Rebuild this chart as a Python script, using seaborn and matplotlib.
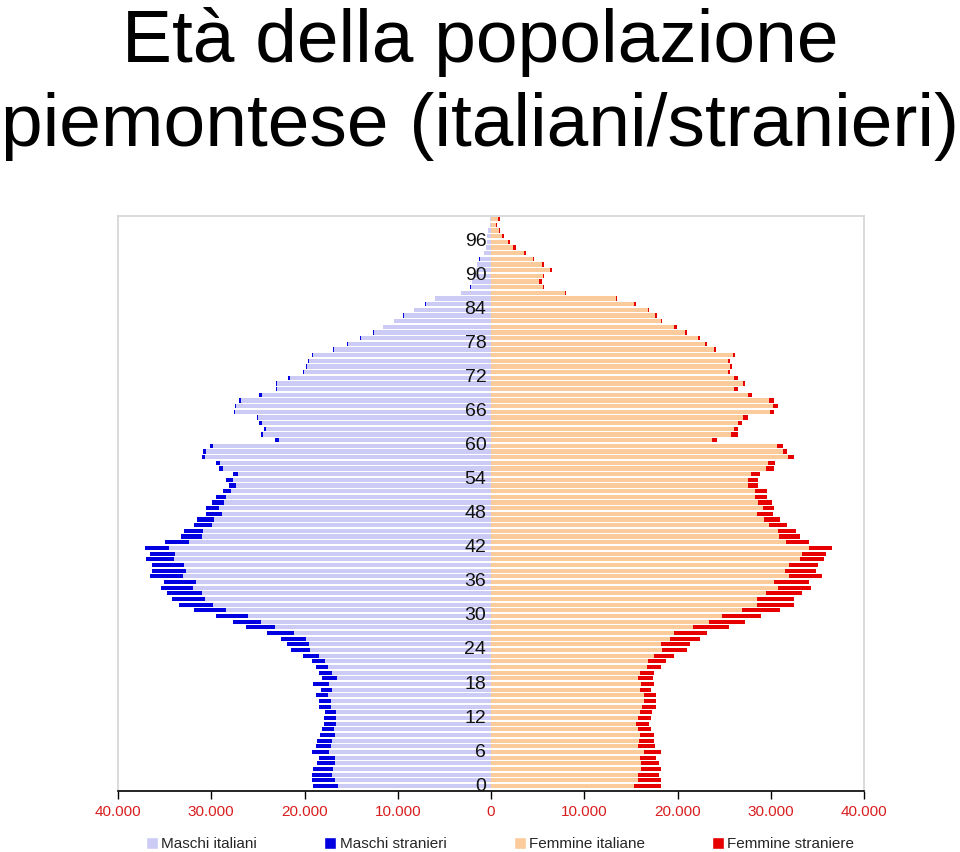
import numpy as np
import pandas as pd
import seaborn as sns
import matplotlib.pyplot as plt
from matplotlib.patches import Patch

# eta' 0..100, valori in migliaia
ages = list(range(0, 101))

maschi_italiani = [
    16.4, 16.75, 17.0, 16.94, 16.75, 16.75, 17.36, 17.18, 17.04, 16.75,
    16.83, 16.65, 16.65, 16.65, 17.15, 17.15, 17.5, 17.0, 17.36, 16.47,
    17.0, 17.47, 17.75, 18.46, 19.42, 19.53, 19.88, 21.13, 23.16, 24.65,
    26.07, 28.39, 29.81, 30.63, 31.02, 31.98, 31.59, 32.98, 32.69, 32.94,
    34.01, 33.9, 34.54, 32.34, 31.02, 30.92, 29.92, 29.74, 28.82, 29.21,
    28.68, 28.42, 27.89, 27.35, 27.71, 27.1, 28.74, 29.03, 30.63, 30.6,
    29.8, 22.7, 24.5, 24.15, 24.6, 24.95, 27.45, 27.35, 26.85, 24.6,
    22.9, 22.9, 21.55, 20.1, 19.75, 19.57, 19.1, 16.85, 15.37, 13.93,
    12.6, 11.55, 10.37, 9.38, 8.22, 7.01, 6.03, 3.25, 2.19, 1.99,
    1.95, 1.59, 1.49, 1.23, 0.77, 0.54, 0.44, 0.39, 0.29, 0.15, 0.15]

maschi_stranieri = [
    2.67, 2.43, 2.18, 2.13, 1.92, 1.71, 1.82, 1.64, 1.66, 1.57,
    1.27, 1.21, 1.21, 1.14, 1.31, 1.31, 1.28, 1.28, 1.71, 1.63,
    1.46, 1.31, 1.45, 1.68, 2.07, 2.31, 2.64, 2.85, 3.09, 3.06,
    3.46, 3.41, 3.67, 3.63, 3.74, 3.45, 3.45, 3.62, 3.70, 3.45,
    3.02, 2.70, 2.60, 2.59, 2.24, 2.02, 1.88, 1.82, 1.70, 1.31,
    1.20, 1.11, 0.89, 0.72, 0.71, 0.61, 0.43, 0.46, 0.39, 0.32,
    0.37, 0.46, 0.19, 0.18, 0.23, 0.17, 0.15, 0.15, 0.22, 0.30,
    0.15, 0.20, 0.25, 0.10, 0.10, 0.10, 0.08, 0.08, 0.07, 0.07,
    0.07, 0.05, 0.05, 0.04, 0.03, 0.03, 0.02, 0.02, 0.01, 0.01,
    0.01, 0.01, 0.01, 0.01, 0.01, 0.01, 0.01, 0.01, 0.01, 0.0, 0.0]

femmine_italiane = [
    15.37, 15.72, 15.72, 16.08, 16.08, 15.97, 16.36, 15.8, 15.9, 16.0,
    15.8, 15.55, 15.76, 16.0, 16.15, 16.36, 16.36, 16.0, 16.08, 15.8,
    16.0, 16.72, 16.86, 17.43, 18.36, 18.28, 19.18, 19.64, 21.66, 23.37,
    24.79, 26.9, 28.53, 28.53, 29.49, 30.74, 30.31, 31.91, 31.56, 31.91,
    33.12, 33.33, 34.05, 31.63, 30.92, 30.74, 29.85, 29.24, 28.53, 29.14,
    28.68, 28.32, 28.32, 27.54, 27.54, 27.9, 29.5, 29.67, 31.88, 31.27,
    30.66, 23.7, 25.76, 26.1, 26.47, 27.07, 29.96, 30.28, 29.78, 27.6,
    26.1, 27.0, 26.1, 25.4, 25.58, 25.4, 25.93, 23.9, 22.98, 22.2,
    20.78, 19.64, 18.2, 17.58, 16.79, 15.37, 13.4, 7.9, 5.58, 5.12,
    5.58, 6.37, 5.48, 4.52, 3.52, 2.38, 1.85, 1.2, 0.85, 0.57, 0.78]

femmine_straniere = [
    2.91, 2.56, 2.32, 2.13, 1.96, 1.71, 1.85, 1.78, 1.6, 1.5,
    1.4, 1.42, 1.44, 1.29, 1.53, 1.32, 1.32, 1.2, 1.42, 1.52,
    1.5, 1.49, 1.96, 2.17, 2.64, 3.1, 3.2, 3.55, 3.81, 3.92,
    4.16, 4.05, 3.91, 3.91, 3.91, 3.62, 3.81, 3.56, 3.27, 3.19,
    2.6, 2.64, 2.48, 2.49, 2.24, 1.95, 1.88, 1.78, 1.75, 1.24,
    1.42, 1.28, 1.28, 1.06, 1.06, 0.9, 0.8, 0.78, 0.56, 0.46,
    0.61, 0.5, 0.71, 0.4, 0.46, 0.53, 0.42, 0.52, 0.52, 0.36,
    0.4, 0.25, 0.37, 0.25, 0.28, 0.25, 0.25, 0.25, 0.21, 0.2,
    0.28, 0.35, 0.15, 0.24, 0.15, 0.14, 0.1, 0.18, 0.15, 0.36,
    0.15, 0.18, 0.18, 0.14, 0.18, 0.25, 0.15, 0.15, 0.15, 0.1, 0.15]

age_labels = list(range(0, 97, 6))
x_ticks = [-40000, -30000, -20000, -10000, 0, 10000, 20000, 30000, 40000]
x_tick_labels = ['40.000', '30.000', '20.000', '10.000', '0',
                 '10.000', '20.000', '30.000', '40.000']

col_mi = '#cbcbf5'
col_ms = '#0000e0'
col_fi = '#fccb9b'
col_fs = '#e60000'

df = pd.DataFrame({'eta': [str(a) for a in ages]})
df['m_ita'] = -np.array(maschi_italiani) * 1000
df['m_tot'] = -(np.array(maschi_italiani) + np.array(maschi_stranieri)) * 1000
df['f_ita'] = np.array(femmine_italiane) * 1000
df['f_tot'] = (np.array(femmine_italiane) + np.array(femmine_straniere)) * 1000
order = [str(a) for a in ages[::-1]]

sns.set_theme(style='white')
plt.rcParams['font.family'] = ['Liberation Sans', 'DejaVu Sans']

fig = plt.figure(figsize=(9.6, 8.52), dpi=100)
ax = fig.add_axes([118 / 960, 1 - 791 / 852, 746 / 960, 575 / 852])

# stranieri sotto (totale), italiani sopra
for col, c in [('m_tot', col_ms), ('m_ita', col_mi), ('f_tot', col_fs), ('f_ita', col_fi)]:
    sns.barplot(data=df, x=col, y='eta', order=order, orient='h', color=c,
                saturation=1, width=0.76, linewidth=0, errorbar=None, ax=ax)

ax.set_xlim(-40000, 40000)
ax.set_ylim(100.88, -0.58)
ax.set_xticks(x_ticks)
ax.set_xticklabels(x_tick_labels, color='#d91e1e', fontsize=11)
ax.set_yticks([])
ax.set_xlabel('')
ax.set_ylabel('')
ax.tick_params(axis='x', direction='out', length=6, width=1, color='black',
               bottom=True, pad=4)

for a in age_labels:
    ax.text(-500, 100 - a, str(a), ha='right', va='center', fontsize=14, color='#111111')

for s in ['left', 'top', 'right']:
    ax.spines[s].set_color('#d4d4d4')
    ax.spines[s].set_linewidth(1.2)
ax.spines['bottom'].set_color('black')
ax.spines['bottom'].set_linewidth(1.2)

# legenda
handles = [Patch(facecolor=col_mi, label='Maschi italiani'),
           Patch(facecolor=col_ms, label='Maschi stranieri'),
           Patch(facecolor=col_fi, label='Femmine italiane'),
           Patch(facecolor=col_fs, label='Femmine straniere')]
fig.legend(handles=handles, loc='center', bbox_to_anchor=(0.521, 0.009), ncol=4,
           frameon=False, fontsize=11, handlelength=0.8, handleheight=0.8,
           handletextpad=0.2, columnspacing=4.4, borderaxespad=0, borderpad=0)

fig.text(0.5, 1 - 62 / 852, 'Età della popolazione', ha='center', va='baseline',
         fontsize=54, color='black')
fig.text(0.5, 1 - 146 / 852, 'piemontese (italiani/stranieri)', ha='center',
         va='baseline', fontsize=54, color='black')

fig.savefig('out.png', dpi=100)
